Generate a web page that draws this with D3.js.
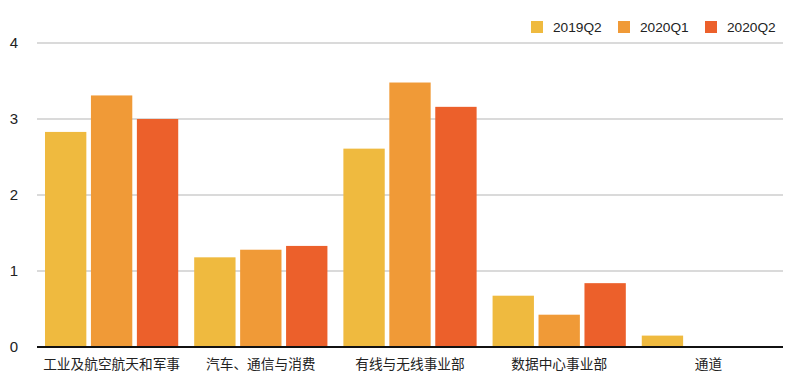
<!DOCTYPE html>
<html><head><meta charset="utf-8">
<script src="https://cdn.jsdelivr.net/npm/d3@7"></script>
<style>body{margin:0;background:#fff}svg{display:block}</style>
</head><body>
<svg id="c" width="800" height="384"></svg>
<script>
const categories = ["工业及航空航天和军事","汽车、通信与消费","有线与无线事业部","数据中心事业部","通道"];
const seriesNames = ["2019Q2","2020Q1","2020Q2"];
const s2019Q2 = [2.83, 1.18, 2.61, 0.675, 0.15];
const s2020Q1 = [3.31, 1.28, 3.48, 0.425, 0];
const s2020Q2 = [3.00, 1.33, 3.16, 0.84, 0];
const yTicks = [0,1,2,3,4];
const colors = ["#EFBA3F","#F09A37","#EC602B"];

const seriesValues = [s2019Q2, s2020Q1, s2020Q2];
const svg = d3.select("#c");
const font = "'Liberation Sans', Arial, 'Noto Sans CJK SC', sans-serif";
const x0 = d3.scaleBand().domain(categories).range([37,783]).paddingInner(0.107).paddingOuter(0.0536);
const x1 = d3.scaleBand().domain(seriesNames).range([0,x0.bandwidth()]).paddingInner(0.1);
const y = d3.scaleLinear().domain([0,4]).range([347,43]);

// grid
svg.append("g").selectAll("line").data(yTicks.filter(d=>d>0)).join("line")
  .attr("x1",37).attr("x2",783).attr("y1",d=>y(d)).attr("y2",d=>y(d))
  .attr("stroke","#b5b5b5").attr("stroke-width",1);
svg.append("g").selectAll("text").data(yTicks).join("text")
  .attr("x",14).attr("y",d=>y(d)).attr("dy","0.35em").attr("text-anchor","middle")
  .attr("font-family",font).attr("font-size",15).attr("fill","#222").text(d=>d);

// bars
const g = svg.append("g");
categories.forEach((c,i)=>{
  seriesNames.forEach((s,j)=>{
    const v = seriesValues[j][i];
    if (v<=0) return;
    g.append("rect").attr("x",x0(c)+x1(s)).attr("width",x1.bandwidth())
      .attr("y",y(v)).attr("height",y(0)-y(v)).attr("fill",colors[j]);
  });
});
// baseline
svg.append("line").attr("x1",37).attr("x2",783).attr("y1",y(0)).attr("y2",y(0))
  .attr("stroke","#111").attr("stroke-width",2);

// x labels
svg.append("g").selectAll("text").data(categories).join("text")
  .attr("x",d=>x0(d)+x0.bandwidth()/2).attr("y",364).attr("dy","0.35em").attr("text-anchor","middle")
  .attr("font-family","'Noto Sans CJK SC', sans-serif").attr("font-size",13.7).attr("fill","#222").text(d=>d);

// legend
const legX = [531,618,705];
const lg = svg.append("g");
seriesNames.forEach((s,j)=>{
  lg.append("rect").attr("x",legX[j]).attr("y",21).attr("width",12).attr("height",12).attr("fill",colors[j]);
  lg.append("text").attr("x",legX[j]+22).attr("y",27).attr("dy","0.35em")
    .attr("font-family",font).attr("font-size",13.7).attr("fill","#222").text(s);
});
</script>
</body></html>
